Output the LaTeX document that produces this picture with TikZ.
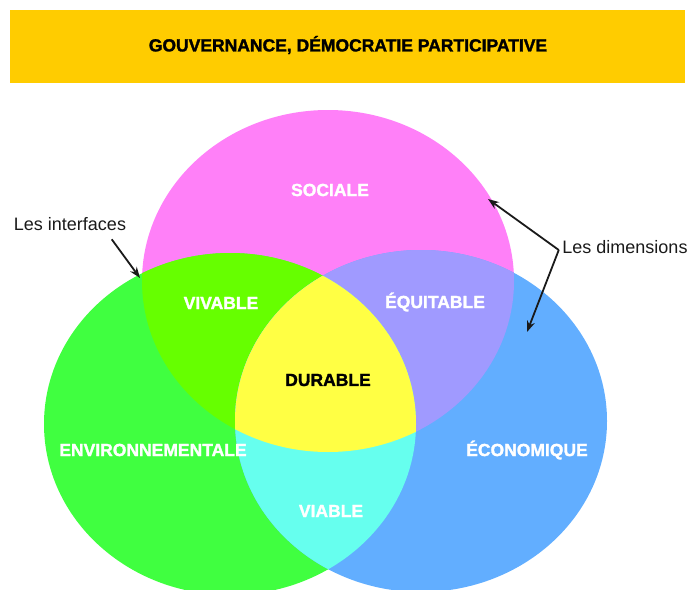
\documentclass[tikz,border=0pt]{standalone}
\usepackage{fontspec}
\setmainfont{Liberation Sans}
\newfontfamily\lourde{Liberation Sans}[BoldFeatures={FakeBold=1.6}]
\usetikzlibrary{arrows.meta}
\tikzset{every picture/.style={line width=0.75pt}}
\definecolor{bandeau}{HTML}{FFCC00}
\definecolor{rose}{HTML}{FF80F8}
\definecolor{vert}{HTML}{40FF40}
\definecolor{bleu}{HTML}{62AEFF}
\definecolor{vivable}{HTML}{66FF00}
\definecolor{equitable}{HTML}{A09AFF}
\definecolor{viable}{HTML}{66FFEE}
\definecolor{durable}{HTML}{FFFF44}
\definecolor{encre}{HTML}{1A1A1A}
\tikzset{
	rayon/.style={x radius=186,y radius=171},
	dimtxt/.style={font=\lourde\fontsize{17.5}{20}\selectfont\bfseries,text=white},
	note/.style={font=\fontsize{18}{21}\selectfont,text=encre},
	fleche/.style={->,>={Stealth[length=11pt,width=8pt]},line width=1.8pt,draw=encre}
}

\begin{document}
\begin{tikzpicture}[x=1pt,y=-1pt]
				\useasboundingbox (0,0) rectangle (688,589);
				\fill[bandeau] (10,10) rectangle (685,83); %bandeau
				\node[dimtxt,text=black] (gouv) at (348,45) {GOUVERNANCE, DÉMOCRATIE PARTICIPATIVE};
				\coordinate (cS) at (328,281); %sociale
				\coordinate (cE) at (230,424); %environnementale
				\coordinate (cC) at (421,421); %economique
				\fill[rose] (cS) ellipse[rayon];
				\fill[vert] (cE) ellipse[rayon];
				\fill[bleu] (cC) ellipse[rayon];
				\begin{scope} \clip (cS) ellipse[rayon];
					\fill[vivable] (cE) ellipse[rayon];
					\fill[equitable] (cC) ellipse[rayon];
				\end{scope}
				\begin{scope} \clip (cE) ellipse[rayon];
					\fill[viable] (cC) ellipse[rayon];
				\end{scope}
				\begin{scope} \clip (cS) ellipse[rayon]; \clip (cE) ellipse[rayon];
					\fill[durable] (cC) ellipse[rayon];
				\end{scope}
				\node[dimtxt] (sociale) at (330,190) {SOCIALE};
				\node[dimtxt] (vivable) at (221,303) {VIVABLE};
				\node[dimtxt] (equitable) at (435,302) {ÉQUITABLE};
				\node[dimtxt,text=black] (durable) at (328,380) {DURABLE};
				\node[dimtxt] (environ) at (153,450) {ENVIRONNEMENTALE};
				\node[dimtxt] (econ) at (527,450) {ÉCONOMIQUE};
				\node[dimtxt] (viable) at (331,511) {VIABLE};
				\node[note] (interf) at (70,224) {Les interfaces};
				\node[note] (dimens) at (625,247) {Les dimensions};
				\coordinate (pointeI) at (140,278); %interface
				\coordinate (pointeS) at (488,199);
				\coordinate (pointeC) at (527,332);
				\draw[fleche] ([xshift=-18pt,yshift=-5pt]interf.south east)--(pointeI);
				\draw[fleche] ([yshift=-3pt]dimens.west)--(pointeS);
				\draw[fleche] ([yshift=-3pt]dimens.west)--(pointeC);
			\end{tikzpicture}
\end{document}
